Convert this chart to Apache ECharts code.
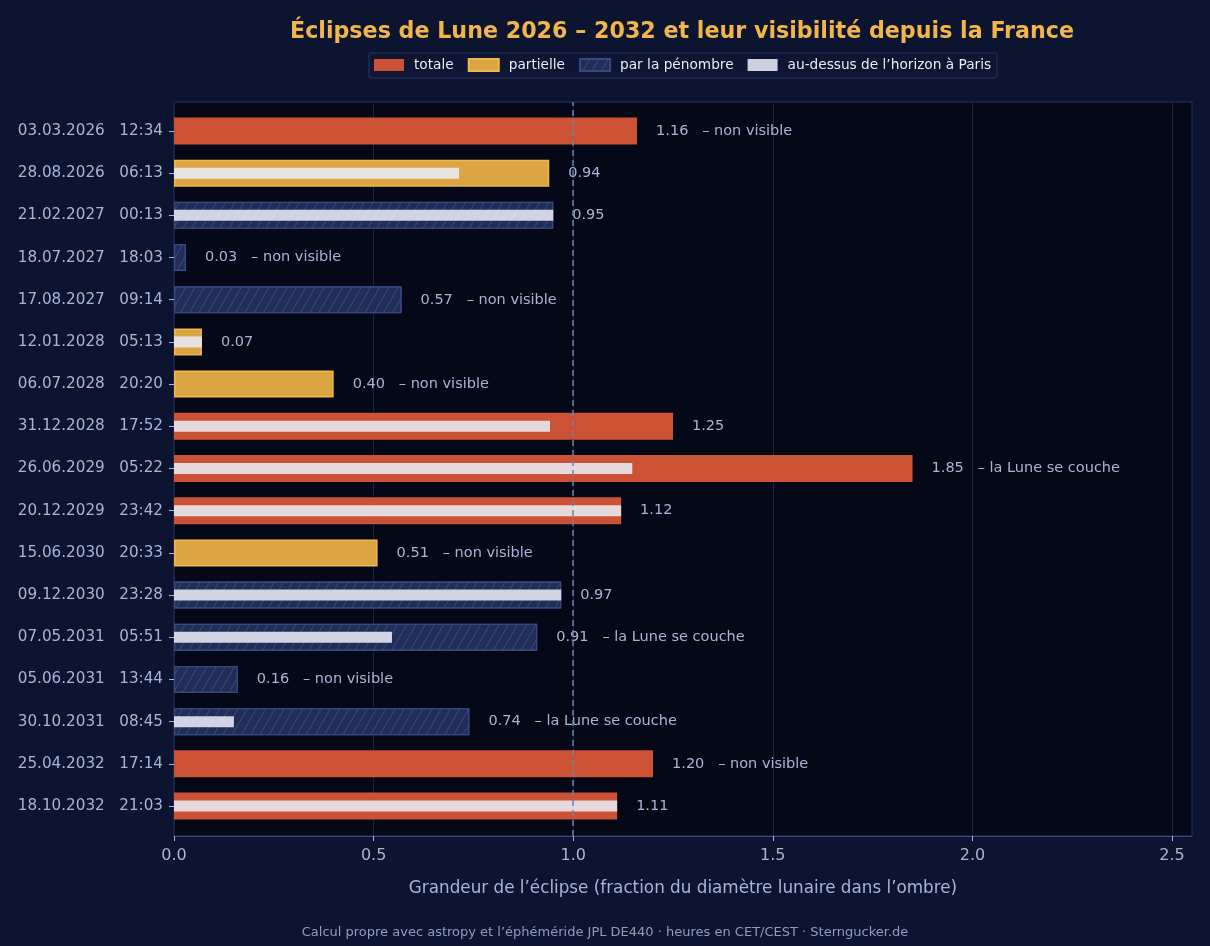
<!DOCTYPE html>
<html><head><meta charset="utf-8">
<script src="https://cdn.jsdelivr.net/npm/echarts@6/dist/echarts.min.js"></script>
<style>html,body{margin:0;padding:0;background:#0c1430;}#c{width:1210px;height:946px;}</style>
</head><body><div id="c"></div>
<script>
const categories = ['03.03.2026   12:34','28.08.2026   06:13','21.02.2027   00:13','18.07.2027   18:03','17.08.2027   09:14','12.01.2028   05:13','06.07.2028   20:20','31.12.2028   17:52','26.06.2029   05:22','20.12.2029   23:42','15.06.2030   20:33','09.12.2030   23:28','07.05.2031   05:51','05.06.2031   13:44','30.10.2031   08:45','25.04.2032   17:14','18.10.2032   21:03'];
const types = ['T','P','N','N','N','P','P','T','T','T','P','N','N','N','N','T','T'];
const magnitudes = [1.16,0.94,0.95,0.03,0.57,0.07,0.40,1.25,1.85,1.12,0.51,0.97,0.91,0.16,0.74,1.20,1.11];
const visibleParis = [0,0.714,0.95,0,0,0.07,0,0.942,1.148,1.12,0,0.97,0.546,0,0.150,0,1.11];
const notes = ['non visible','','','non visible','non visible','','non visible','','la Lune se couche','','non visible','','la Lune se couche','non visible','la Lune se couche','non visible',''];
const xTicks = [0,0.5,1.0,1.5,2.0,2.5];

const txt = '#a9b4d6';
const font = 'DejaVu Sans';
function pick(t){ return magnitudes.map((v,i)=> types[i]===t ? v : '-'); }
const labelCfg = {
  show:true, position:'right', distance:19, color:txt, fontSize:14.5, fontFamily:font,
  formatter: p => p.value.toFixed(2) + (notes[p.dataIndex] ? '   – ' + notes[p.dataIndex] : '')
};
const chart = echarts.init(document.getElementById('c'));
chart.setOption({
  backgroundColor:'#0c1430',
  animation:false,
  textStyle:{fontFamily:font},
  title:[{
    text:'Éclipses de Lune 2026 – 2032 et leur visibilité depuis la France',
    left:677, top:16, textAlign:'center',
    textStyle:{color:'#f2b54a', fontSize:22.2, fontWeight:'bold', fontFamily:font}
  },{
    text:'Calcul propre avec astropy et l’éphéméride JPL DE440 · heures en CET/CEST · Sterngucker.de',
    left:'center', top:921,
    textStyle:{color:'#8f9bc0', fontSize:13, fontWeight:'normal', fontFamily:font}
  }],
  legend:{
    data:['totale','partielle','par la pénombre','au-dessus de l’horizon à Paris'],
    icon:'rect',
    left:369, top:53, itemWidth:30, itemHeight:12, itemGap:14,
    padding:[5,6,6,5],
    backgroundColor:'#0e1634', borderColor:'#2a3560', borderWidth:1, borderRadius:2,
    textStyle:{color:'#e8ecf5', fontSize:13.7, fontFamily:font, padding:[0,0,0,5]}
  },
  grid:[
    {left:174, right:18, top:102, bottom:110, show:true, backgroundColor:'#050816', borderColor:'#2a3560', borderWidth:1, containLabel:false},
    {left:174, right:18, top:109.9, bottom:118.9, containLabel:false}
  ],
  xAxis:[{
    gridIndex:0, type:'value', min:0, max:2.55, interval:0.5,
    axisLine:{show:true, lineStyle:{color:'#3a4778'}},
    axisTick:{show:true, length:5, lineStyle:{color:'#a9b4d6'}, customValues:xTicks},
    axisLabel:{color:txt, fontSize:16, margin:12, fontFamily:font, customValues:xTicks, formatter:v=>v.toFixed(1)},
    splitLine:{show:true, lineStyle:{color:'#1a2342', width:1}},
    name:'Grandeur de l’éclipse (fraction du diamètre lunaire dans l’ombre)',
    nameLocation:'middle', nameGap:44, nameTextStyle:{color:txt, fontSize:16.8, fontFamily:font}
  },{
    gridIndex:1, type:'value', min:0, max:2.55, show:false
  }],
  yAxis:[{
    gridIndex:0, type:'value', min:0, max:1, show:false
  },{
    gridIndex:1, type:'category', data:categories, inverse:true,
    axisLine:{show:false},
    axisTick:{show:true, alignWithLabel:true, length:5, lineStyle:{color:'#a9b4d6'}},
    axisLabel:{color:txt, fontSize:15.2, margin:11, fontFamily:font},
    splitLine:{show:false}
  },{
    gridIndex:1, type:'category', data:categories, inverse:true, show:false
  }],
  series:[
    {name:'ref', type:'scatter', xAxisIndex:0, yAxisIndex:0, data:[[1,0.5]], symbolSize:0, z:20, silent:true,
     markLine:{silent:true, symbol:['none','none'], label:{show:false},
       lineStyle:{color:'#6f7fae', type:[6,4], width:1.5}, data:[{xAxis:1}]}},
    {name:'totale', type:'bar', xAxisIndex:1, yAxisIndex:1, stack:'m', barWidth:27, data:pick('T'),
     itemStyle:{color:'#cc5236', borderColor:'#e05a3a', borderWidth:0}, label:labelCfg},
    {name:'partielle', type:'bar', xAxisIndex:1, yAxisIndex:1, stack:'m', barWidth:27, data:pick('P'),
     itemStyle:{color:'#dba544', borderColor:'#f0b84a', borderWidth:1.5}, label:labelCfg},
    {name:'par la pénombre', type:'bar', xAxisIndex:1, yAxisIndex:1, stack:'m', barWidth:27, data:pick('N'),
     itemStyle:{color:'#202d56', borderColor:'#37487e', borderWidth:1.2,
       decal:{symbol:'rect', symbolSize:1, dashArrayX:[1,0], dashArrayY:[1,7], rotation:-Math.PI/3, color:'rgba(85,105,165,0.45)'}},
     label:labelCfg},
    {name:'au-dessus de l’horizon à Paris', type:'bar', xAxisIndex:1, yAxisIndex:2, barWidth:11, z:3,
     data:visibleParis.map(v=> v>0 ? v : '-'),
     itemStyle:{color:'rgba(232,236,246,0.88)'}}
  ]
});
</script></body></html>
